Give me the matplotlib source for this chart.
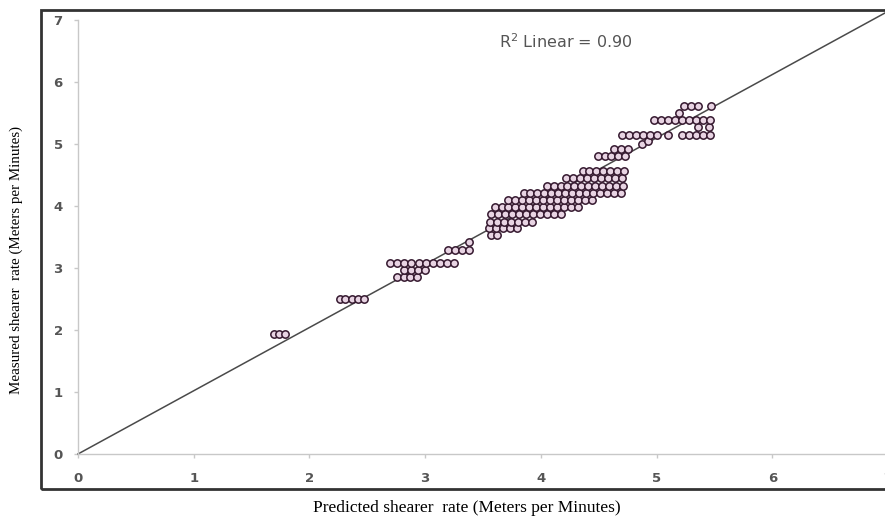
import matplotlib
matplotlib.use('Agg')
import matplotlib.pyplot as plt
from matplotlib.patches import Rectangle

# measured rate levels and the predicted rates plotted at each level
meas_levels = [1.93, 2.50, 2.86, 2.97, 3.08, 3.29, 3.42,
               3.53, 3.65, 3.75, 3.87, 3.98, 4.10, 4.21, 4.32, 4.45, 4.57,
               4.80, 4.92, 5.00, 5.05, 5.15, 5.27, 5.38, 5.50, 5.62]
pred_rows = [
    [1.69, 1.74, 1.79],
    [2.26, 2.31, 2.37, 2.42, 2.47],
    [2.76, 2.82, 2.87, 2.93],
    [2.82, 2.88, 2.94, 3.00],
    [2.70, 2.76, 2.82, 2.88, 2.95, 3.01, 3.07, 3.13, 3.19, 3.25],
    [3.20, 3.26, 3.32, 3.38],
    [3.38],
    [3.57, 3.62],
    [3.55, 3.61, 3.67, 3.73, 3.79],
    [3.56, 3.62, 3.68, 3.74, 3.80, 3.86, 3.92],
    [3.57, 3.63, 3.69, 3.75, 3.81, 3.87, 3.93, 3.99, 4.05, 4.11, 4.17],
    [3.60, 3.66, 3.72, 3.78, 3.84, 3.90, 3.96, 4.02, 4.08, 4.14, 4.20, 4.26, 4.32],
    [3.72, 3.78, 3.84, 3.90, 3.96, 4.02, 4.08, 4.14, 4.20, 4.26, 4.32, 4.38, 4.44],
    [3.85, 3.91, 3.97, 4.03, 4.09, 4.15, 4.21, 4.27, 4.33, 4.39, 4.45, 4.51, 4.57, 4.63, 4.69],
    [4.05, 4.11, 4.17, 4.23, 4.29, 4.35, 4.41, 4.47, 4.53, 4.59, 4.65, 4.71],
    [4.22, 4.28, 4.34, 4.40, 4.46, 4.52, 4.58, 4.64, 4.70],
    [4.36, 4.42, 4.48, 4.54, 4.60, 4.66, 4.72],
    [4.49, 4.55, 4.61, 4.67, 4.73],
    [4.63, 4.69, 4.75],
    [4.87],
    [4.93],
    [4.70, 4.76, 4.82, 4.88, 4.94, 5.00, 5.10, 5.22, 5.28, 5.34, 5.40, 5.46],
    [5.36, 5.45],
    [4.98, 5.04, 5.10, 5.16, 5.22, 5.28, 5.34, 5.40, 5.46],
    [5.19],
    [5.24, 5.30, 5.36, 5.47],
]

# fitted line (R2 = 0.90)
fit_slope = 1.02
fit_intercept = 0.0
fit_x = [0, 7]

ticks = [0, 1, 2, 3, 4, 5, 6, 7]

pred = []
meas = []
for y, row in zip(meas_levels, pred_rows):
    pred += row
    meas += [y] * len(row)

fig = plt.figure(figsize=(8.85, 5.18), dpi=100)
ax = fig.add_axes([78 / 885, 1 - 454 / 518, 810 / 885, 434 / 518])

ax.plot(fit_x, [fit_intercept + fit_slope * v for v in fit_x],
        color='#4a4a4a', lw=1.1, zorder=2, clip_on=False)
ax.scatter(pred, meas, s=28, facecolor='#e8d4e3', edgecolor='#35192f',
           linewidth=1.1, zorder=3)

ax.set_xlim(0, 7)
ax.set_ylim(0, 7)
ax.set_xticks(ticks)
ax.set_yticks(ticks)
for s in ['top', 'right']:
    ax.spines[s].set_visible(False)
for s in ['left', 'bottom']:
    ax.spines[s].set_color('#c8c8c8')
    ax.spines[s].set_linewidth(1.0)
ax.tick_params(axis='both', colors='#c8c8c8', length=3, width=1,
               labelcolor='#555555', labelsize=9.5)
ax.tick_params(axis='x', pad=10)
ax.tick_params(axis='y', pad=8)
for lab in ax.get_xticklabels() + ax.get_yticklabels():
    lab.set_fontweight('bold')

ax.text(4.22, 6.65, 'R$^2$ Linear = 0.90', ha='center', va='center',
        fontsize=11.5, color='#555555')

fig.text(467 / 885, 1 - 508 / 518,
         'Predicted shearer  rate (Meters per Minutes)',
         ha='center', va='center', fontsize=12.5, family='Liberation Serif')
fig.text(16 / 885, 1 - 260 / 518,
         'Measured shearer  rate (Meters per Minutes)', rotation=90,
         ha='center', va='center', fontsize=10.8, family='Liberation Serif')

# outer frame around the plot
fig.patches.append(Rectangle((41 / 885, 1 - 489 / 518), 870 / 885, 479 / 518,
                             transform=fig.transFigure, fill=False,
                             ec='#333333', lw=2))

fig.savefig('out.png', dpi=100)
